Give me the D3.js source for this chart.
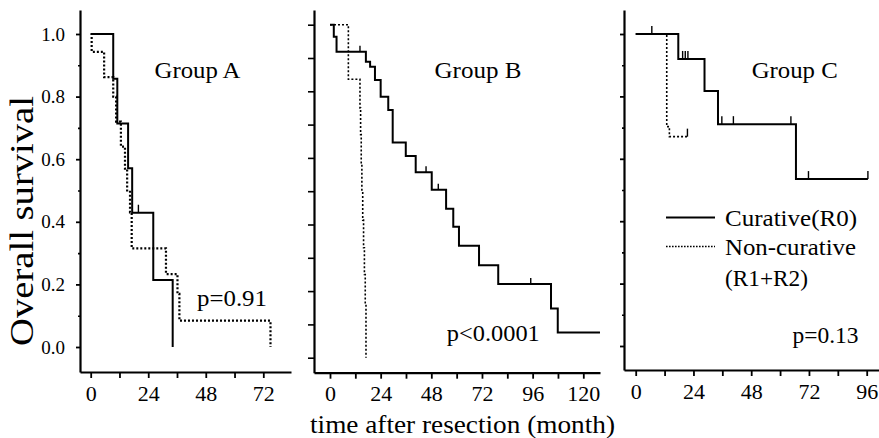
<!DOCTYPE html>
<html>
<head>
<meta charset="utf-8">
<script src="https://cdn.jsdelivr.net/npm/d3@7"></script>
<style>
  html, body { margin: 0; padding: 0; background: #fff; }
  svg { display: block; font-family: "Liberation Serif", "Times New Roman", Times, serif; }
</style>
</head>
<body>
<svg id="chart" width="879" height="438"></svg>
<script>
// ---- Kaplan–Meier data: time of each step (months) and survival after it ----
const monthTicksA = [0, 24, 48, 72];
const monthTicksB = [0, 24, 48, 72, 96, 120];
const monthTicksC = [0, 24, 48, 72, 96];
const survivalTicks = [0.0, 0.2, 0.4, 0.6, 0.8, 1.0];

// Group A
const aCurTime   = [0, 9.4, 11.1, 15.6, 17.3, 26.1, 34.2];
const aCurSurv   = [1.0, 0.857, 0.714, 0.571, 0.429, 0.214, 0.0];
const aCurCensor = [19.9];
const aNonTime   = [0, 0.4, 5.6, 9.4, 10.6, 12.6, 14.3, 15.2, 16.4, 17.1, 31.4, 36.2, 37.0, 75.0];
const aNonSurv   = [1.0, 0.943, 0.862, 0.80, 0.72, 0.64, 0.57, 0.50, 0.43, 0.315, 0.233, 0.17, 0.084, 0.0];
const aNonCensor = [];

// Group B
const bCurTime   = [0, 1.8, 3.1, 17.0, 19.0, 21.3, 24.0, 27.6, 29.7, 35.9, 40.6, 48.2, 55.0, 58.4, 61.1, 70.6, 79.7, 104.7, 107.9, 127.9];
const bCurSurv   = [1.0, 0.964, 0.919, 0.889, 0.874, 0.834, 0.784, 0.744, 0.646, 0.606, 0.557, 0.504, 0.447, 0.393, 0.336, 0.278, 0.221, 0.148, 0.076, 0.076];
const bCurCensor = [14.2, 45.5, 51.3, 95.1];
const bNonTime   = [0, 8.7, 14.2, 14.5, 14.8, 15.1, 15.5, 15.9, 16.3, 16.7, 17.05];
const bNonSurv   = [1.0, 0.836, 0.75, 0.67, 0.58, 0.50, 0.413, 0.33, 0.25, 0.165, 0.0];
const bNonCensor = [];

// Group C
const cCurTime   = [0, 17.7, 28.6, 34.2, 66.6, 96.5];
const cCurSurv   = [1.0, 0.92, 0.817, 0.711, 0.535, 0.535];
const cCurCensor = [6.7, 19.5, 20.6, 21.7, 35.8, 40.6, 64.5, 71.8, 96.5];
const cNonTime   = [0, 12.9, 14.0, 21.5];
const cNonSurv   = [1.0, 0.703, 0.671, 0.671];
const cNonCensor = [21.5];

const groupNames = ["Group A", "Group B", "Group C"];
const pValues    = ["p=0.91", "p<0.0001", "p=0.13"];
const legendLabels = ["Curative(R0)", "Non-curative", "(R1+R2)"];

// ---- panel layout ----
const panels = [
  { name: groupNames[0], p: pValues[0],
    xLeft: 80, xRight: 291, yTop: 10, yBottom: 372,
    t0: 90.7, tRef: 72, tRefPx: 263.3, s0: 347, s1: 34,
    monthTicks: monthTicksA, yLabels: true, yStyle: "major",
    cur: { t: aCurTime, s: aCurSurv, c: aCurCensor },
    non: { t: aNonTime, s: aNonSurv, c: aNonCensor },
    censorLen: 8, nonWidth: 2.2,
    nameX: 197.5, nameY: 78, nameLen: 86,
    pX: 232, pY: 306, pLen: 70 },
  { name: groupNames[1], p: pValues[1],
    xLeft: 314, xRight: 600, yTop: 10, yBottom: 372.7,
    t0: 330, tRef: 120, tRefPx: 583.3, s0: 357.7, s1: 24.7,
    monthTicks: monthTicksB, yLabels: false, yStyle: "all",
    cur: { t: bCurTime, s: bCurSurv, c: bCurCensor },
    non: { t: bNonTime, s: bNonSurv, c: bNonCensor },
    censorLen: 6, nonWidth: 1.6,
    nameX: 478, nameY: 77.5, nameLen: 87,
    pX: 493.3, pY: 340.5, pLen: 93 },
  { name: groupNames[2], p: pValues[2],
    xLeft: 624, xRight: 879, yTop: 10, yBottom: 370,
    t0: 635.7, tRef: 96, tRefPx: 866.7, s0: 346, s1: 34,
    monthTicks: monthTicksC, yLabels: false, yStyle: "major",
    cur: { t: cCurTime, s: cCurSurv, c: cCurCensor },
    non: { t: cNonTime, s: cNonSurv, c: cNonCensor },
    censorLen: 8, nonWidth: 1.6,
    nameX: 794.7, nameY: 77.5, nameLen: 86,
    pX: 825.5, pY: 343, pLen: 66 }
];

const svg = d3.select("#chart");

// survival value of a step function at time t
function survAt(series, t) {
  let v = series.s[0];
  for (let i = 0; i < series.t.length; i++) if (series.t[i] <= t + 1e-9) v = series.s[i];
  return v;
}

panels.forEach(P => {
  const g = svg.append("g");

  // scales: calibrated on the data range, then stretched to the axis extents
  const xCore = d3.scaleLinear().domain([0, P.tRef]).range([P.t0, P.tRefPx]);
  const yCore = d3.scaleLinear().domain([0, 1]).range([P.s0, P.s1]);
  const x = d3.scaleLinear().domain([xCore.invert(P.xLeft), xCore.invert(P.xRight)]).range([P.xLeft, P.xRight]);
  const y = d3.scaleLinear().domain([yCore.invert(P.yBottom), yCore.invert(P.yTop)]).range([P.yBottom, P.yTop]);

  // x axis: ticks every 12 months, labels every 24
  const maxT = P.monthTicks[P.monthTicks.length - 1];
  const minorMonths = d3.range(0, maxT + 1, 12);
  const xAxis = d3.axisBottom(x).tickValues(minorMonths)
    .tickFormat(d => P.monthTicks.includes(d) ? d : "")
    .tickSize(6).tickSizeOuter(0).tickPadding(7);
  const gx = g.append("g").attr("transform", `translate(0,${P.yBottom})`).call(xAxis);
  gx.select(".domain").attr("stroke-width", 2.2).attr("stroke", "#000");
  gx.selectAll(".tick line").attr("stroke-width", 1.8);
  gx.selectAll(".tick text").attr("font-size", 22).attr("font-family", "Liberation Serif, Times New Roman, serif").attr("fill", "#000");

  // y axis
  const tenths = d3.range(0, 11).map(i => i / 10);
  if (P.yStyle === "all") {
    const yAxis = d3.axisLeft(y).tickValues(tenths).tickFormat("").tickSize(6).tickSizeOuter(0);
    const gy = g.append("g").attr("transform", `translate(${P.xLeft},0)`).call(yAxis);
    gy.select(".domain").attr("stroke-width", 2.2);
    gy.selectAll(".tick line").attr("stroke-width", 1.6);
  } else {
    const minors = tenths.filter(v => Math.round(v * 10) % 2 === 1);
    const yMinor = d3.axisLeft(y).tickValues(minors).tickFormat("").tickSize(2).tickSizeOuter(0);
    const gm = g.append("g").attr("transform", `translate(${P.xLeft},0)`).call(yMinor);
    gm.select(".domain").remove();
    gm.selectAll(".tick line").attr("stroke-width", 1.6);
    const yMajor = d3.axisLeft(y).tickValues(survivalTicks)
      .tickFormat(P.yLabels ? d3.format(".1f") : "")
      .tickSize(4).tickSizeOuter(0).tickPadding(11);
    const gy = g.append("g").attr("transform", `translate(${P.xLeft},0)`).call(yMajor);
    gy.select(".domain").attr("stroke-width", 2.2);
    gy.selectAll(".tick line").attr("stroke-width", 1.8);
    gy.selectAll(".tick text").attr("font-size", 19).attr("font-family", "Liberation Serif, Times New Roman, serif").attr("fill", "#000");
  }

  const line = d3.line().x(d => x(d[0])).y(d => y(d[1])).curve(d3.curveStepAfter);

  // non-curative (dotted)
  g.append("path")
    .datum(P.non.t.map((t, i) => [t, P.non.s[i]]))
    .attr("d", line).attr("fill", "none").attr("stroke", "#000")
    .attr("stroke-width", P.nonWidth).attr("stroke-dasharray", "2,2");
  g.selectAll(null).data(P.non.c).enter().append("line")
    .attr("x1", d => x(d)).attr("x2", d => x(d))
    .attr("y1", d => y(survAt(P.non, d))).attr("y2", d => y(survAt(P.non, d)) - P.censorLen)
    .attr("stroke", "#000").attr("stroke-width", 1.4);

  // curative (solid)
  g.append("path")
    .datum(P.cur.t.map((t, i) => [t, P.cur.s[i]]))
    .attr("d", line).attr("fill", "none").attr("stroke", "#000")
    .attr("stroke-width", 2);
  g.selectAll(null).data(P.cur.c).enter().append("line")
    .attr("x1", d => x(d)).attr("x2", d => x(d))
    .attr("y1", d => y(survAt(P.cur, d))).attr("y2", d => y(survAt(P.cur, d)) - P.censorLen)
    .attr("stroke", "#000").attr("stroke-width", 1.4);

  // group title and p-value
  g.append("text").attr("x", P.nameX).attr("y", P.nameY)
    .attr("text-anchor", "middle").attr("font-size", 23)
    .attr("textLength", P.nameLen).attr("lengthAdjust", "spacingAndGlyphs")
    .text(P.name);
  g.append("text").attr("x", P.pX).attr("y", P.pY)
    .attr("text-anchor", "middle").attr("font-size", 23)
    .attr("textLength", P.pLen).attr("lengthAdjust", "spacingAndGlyphs")
    .text(P.p);
});

// legend (inside the Group C panel)
const lg = svg.append("g");
lg.append("line").attr("x1", 666).attr("x2", 715).attr("y1", 217.5).attr("y2", 217.5)
  .attr("stroke", "#000").attr("stroke-width", 2);
lg.append("line").attr("x1", 666).attr("x2", 715).attr("y1", 246.5).attr("y2", 246.5)
  .attr("stroke", "#000").attr("stroke-width", 1.4).attr("stroke-dasharray", "1.6,1.4");
const legendY = [226, 255, 286];
const legendLen = [132, 131, 83];
legendLabels.forEach((t, i) => {
  lg.append("text").attr("x", 725).attr("y", legendY[i]).attr("font-size", 23)
    .attr("textLength", legendLen[i]).attr("lengthAdjust", "spacingAndGlyphs").text(t);
});

// axis titles
svg.append("text")
  .attr("transform", "translate(33,221) rotate(-90)")
  .attr("text-anchor", "middle").attr("font-size", 33)
  .attr("textLength", 250).attr("lengthAdjust", "spacingAndGlyphs")
  .text("Overall survival");
svg.append("text")
  .attr("x", 462.5).attr("y", 433).attr("text-anchor", "middle").attr("font-size", 25)
  .attr("textLength", 305).attr("lengthAdjust", "spacingAndGlyphs")
  .text("time after resection (month)");
</script>
</body>
</html>
